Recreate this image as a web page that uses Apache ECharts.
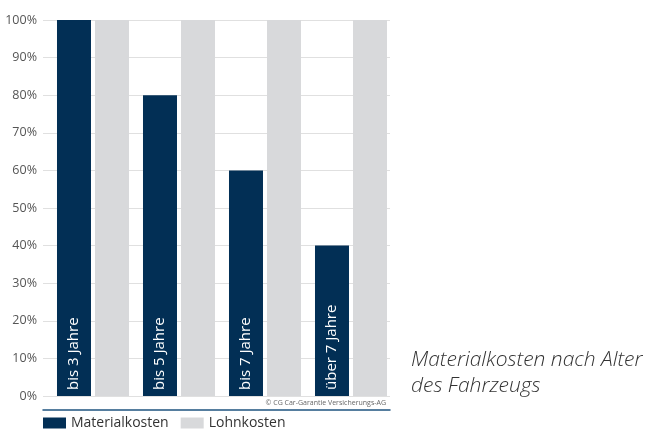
<!DOCTYPE html>
<html><head><meta charset="utf-8">
<script src="https://cdn.jsdelivr.net/npm/echarts@6/dist/echarts.min.js"></script>
<style>html,body{margin:0;padding:0;background:#fff}#c{width:649px;height:429px}</style>
</head><body><div id="c"></div>
<script>
const categories = ['bis 3 Jahre', 'bis 5 Jahre', 'bis 7 Jahre', 'über 7 Jahre'];
const materialkosten = [100, 80, 60, 40];
const lohnkosten = [100, 100, 100, 100];
const seriesNames = ['Materialkosten', 'Lohnkosten'];
const titleText = 'Materialkosten nach Alter\ndes Fahrzeugs';
const copyright = '© CG Car-Garantie Versicherungs-AG';

const FONT = '"Open Sans", "Noto Sans", sans-serif';
const chart = echarts.init(document.getElementById('c'), null, {renderer: 'canvas'});
chart.setOption({
  animation: false,
  textStyle: {fontFamily: FONT},
  title: {
    text: titleText, left: 411, top: 347, padding: 0,
    textStyle: {fontFamily: FONT, fontStyle: 'italic', fontWeight: 300, fontSize: 21, lineHeight: 26, color: '#333'}
  },
  legend: {
    left: 43, top: 416, itemWidth: 23, itemHeight: 11, itemGap: 12, padding: 0,
    icon: 'rect',
    textStyle: {fontFamily: FONT, fontSize: 14, color: '#333'},
    data: seriesNames
  },
  grid: [
    {left: 50, right: 255, top: 20, bottom: 33},
    {left: 43, right: 259, top: 20, bottom: 33}
  ],
  xAxis: [
    {type: 'category', gridIndex: 0, data: categories, show: false},
    {type: 'category', gridIndex: 1, data: categories, axisLabel: {show: false}, axisTick: {show: false},
     offset: 14, axisLine: {show: true, onZero: false, lineStyle: {color: '#1f5480', width: 1.5}}, z: 0}
  ],
  yAxis: [
    {type: 'value', gridIndex: 0, min: 0, max: 100, interval: 10, show: false},
    {type: 'value', gridIndex: 1, min: 0, max: 100, interval: 10,
     axisLine: {show: false}, axisTick: {show: false},
     axisLabel: {formatter: '{value}%', color: '#555', fontSize: 12.5, margin: 6, fontFamily: FONT},
     splitLine: {lineStyle: {color: '#e0e0e0', width: 1.2}}}
  ],
  graphic: [{
    type: 'text', right: 263, top: 399,
    style: {text: copyright, fontSize: 7, fill: '#666', fontFamily: FONT}
  }],
  series: [
    {
      name: seriesNames[0], type: 'bar', xAxisIndex: 0, yAxisIndex: 0,
      data: materialkosten, barWidth: 34, barGap: '11.8%',
      itemStyle: {color: '#022f55'},
      label: {show: true, position: 'insideBottom', rotate: 90, align: 'left', verticalAlign: 'middle',
        distance: 6, formatter: '{b}', color: '#fff', fontSize: 15, fontFamily: FONT}
    },
    {
      name: seriesNames[1], type: 'bar', xAxisIndex: 0, yAxisIndex: 0,
      data: lohnkosten, barWidth: 34,
      itemStyle: {color: '#d8d9db'}
    }
  ]
});
</script></body></html>
